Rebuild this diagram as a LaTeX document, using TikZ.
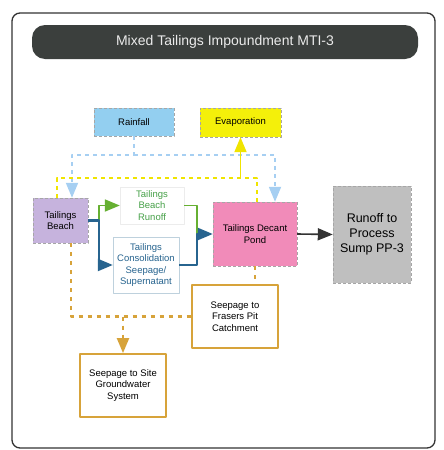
\documentclass[tikz,border=0pt]{standalone}
\usepackage{fontspec}
\setmainfont{Liberation Sans}
\usetikzlibrary{arrows.meta}
\definecolor{titlebar}{HTML}{3B3F3D}
\definecolor{rainblue}{HTML}{93CFF0}
\definecolor{evapyel}{HTML}{F4F00A}
\definecolor{beachlil}{HTML}{C6B3DD}
\definecolor{pondpink}{HTML}{F18BB9}
\definecolor{sumpgray}{HTML}{BFBFBF}
\definecolor{seepgold}{HTML}{D7A33A}
\definecolor{dashblue}{HTML}{A6CFF2}
\definecolor{dashyel}{HTML}{F0E400}
\definecolor{runoffgrn}{HTML}{66B032}
\definecolor{consblue}{HTML}{27648F}
\begin{document}
\begin{tikzpicture}[x=1pt,y=-1pt,line join=round,
  font=\fontsize{9.5}{11.5}\selectfont,
  >={Triangle[length=15pt,width=12pt]},
  box/.style={draw=gray!70,densely dashed,thin,inner sep=1pt,align=center},
  seep/.style={draw=seepgold,line width=1.8pt,fill=white,inner sep=1pt,align=center},
  flowblue/.style={dashblue,line width=1.8pt,dash pattern=on 4pt off 4pt},
  flowyel/.style={dashyel,line width=1.8pt,dash pattern=on 4pt off 4pt},
  flowgold/.style={seepgold,line width=2.2pt,dash pattern=on 4pt off 5pt}]
\useasboundingbox (0,0) rectangle (444,450);
% frame and title
\draw[line width=1.3pt,rounded corners=8pt,black!80] (12,13) rectangle (435,448);
\node[fill=titlebar,rounded corners=13pt,minimum width=386pt,minimum height=34pt,
  text=white!92!black,font=\fontsize{14}{16}\selectfont] (title) at (225,42) {Mixed Tailings Impoundment MTI-3};
% boxes
\node[box,fill=rainblue,minimum width=80pt,minimum height=28pt] (rain) at (134,122) {Rainfall};
\node[box,fill=evapyel,minimum width=81pt,minimum height=29pt] (evap) at (240.5,122.5) {Evaporation};
\node[box,fill=beachlil,minimum width=55pt,minimum height=45pt] (beach) at (60.5,220.5) {Tailings\\Beach};
\node[draw=gray!15,fill=white,align=center,inner sep=1pt,minimum width=64pt,minimum height=37pt,
  text=runoffgrn!70!teal] (runoff) at (152,205.5) {Tailings\\Beach\\Runoff};
\node[draw=consblue!30,fill=white,align=center,inner sep=1pt,minimum width=66pt,minimum height=56pt,
  text=consblue] (cons) at (146,265) {Tailings\\Consolidation\\Seepage/\\Supernatant};
\node[box,fill=pondpink,minimum width=84pt,minimum height=64pt] (pond) at (255,234) {Tailings Decant\\Pond};
\node[box,fill=sumpgray,minimum width=78pt,minimum height=97pt,
  font=\fontsize{12.5}{15}\selectfont] (sump) at (372,234.5) {Runoff to\\Process\\Sump PP-3};
\node[seep,minimum width=86pt,minimum height=63pt] (frasers) at (235,316.5) {Seepage to\\Frasers Pit\\Catchment};
\node[seep,minimum width=86pt,minimum height=63pt] (ground) at (123,385.5) {Seepage to Site\\Groundwater\\System};
% rainfall and evaporation
\coordinate (bl) at (72,155);
\coordinate (br) at (275,155);
\coordinate (yl) at (57,178);
\coordinate (yr) at (257,178);
\draw[flowblue,->] (rain.south) -- (rain.south |- bl) -- (bl) -- (bl |- beach.north);
\draw[flowblue,->] (rain.south |- bl) -- (br) -- (br |- pond.north);
\draw[flowyel] (beach.north -| yl) -- (yl) -- (yr) -- (yr |- pond.north);
\draw[dashyel,line width=1.8pt,->] (evap.south |- yl) -- (evap.south);
% beach flows
\coordinate (split) at (99,220.5);
\coordinate (join) at (197,234);
\draw[runoffgrn,line width=1.8pt,->] (beach.east) -- (split) |- (runoff.west);
\draw[runoffgrn,line width=1.8pt] (runoff.east) -| (join);
\draw[consblue,line width=2.2pt,->] (beach.east) -- (split) |- (cons.west);
\draw[consblue,line width=2.2pt,->] (cons.east) -| (join) -- (pond.west);
\draw[black!80,line width=1.6pt,->] (pond.east) -- (sump.west);
% seepage
\coordinate (gl) at (71,316.5);
\draw[flowgold] (pond.south) -- (pond.south |- frasers.north);
\draw[flowgold] (beach.south -| gl) -- (gl) -- (frasers.west);
\draw[flowgold,->] (ground.north |- gl) -- (ground.north);
\end{tikzpicture}
\end{document}
